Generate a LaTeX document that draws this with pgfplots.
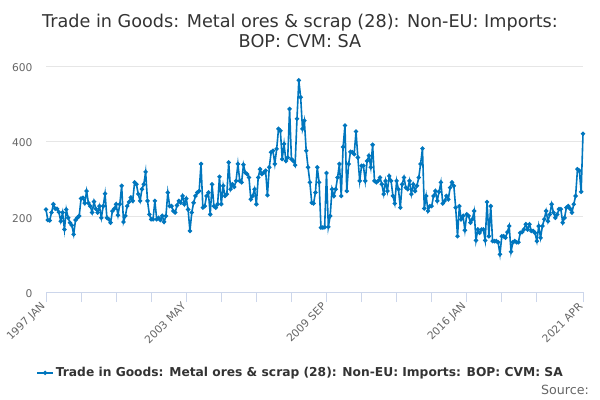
\documentclass[border=0pt]{standalone}
\usepackage{pgfplots}
\pgfplotsset{compat=1.18}
\usepackage{pgfplotstable}
\usepackage{fontspec}
\setmainfont{DejaVu Sans}
\definecolor{linec}{HTML}{0076BE}
\definecolor{axisc}{HTML}{CCD6EB}
\definecolor{gridc}{HTML}{E6E6E6}
\definecolor{labc}{HTML}{666666}
\definecolor{titc}{HTML}{333333}

\pgfplotstableread{
m v
0 219
1 191
2 190
3 211
4 233
5 221
6 221
7 212
8 188
9 211
10 166
11 219
12 197
13 184
14 177
15 153
16 191
17 197
18 202
19 248
20 250
21 236
22 268
23 236
24 228
25 211
26 240
27 221
28 211
29 228
30 197
31 228
32 261
33 197
34 193
35 184
36 215
37 221
38 233
39 204
40 233
41 282
42 186
43 202
44 228
45 239
46 251
47 242
48 291
49 286
50 260
51 242
52 273
53 286
54 319
55 242
56 206
57 193
58 193
59 242
60 193
61 197
62 191
63 202
64 186
65 202
66 264
67 228
68 228
69 215
70 211
71 230
72 242
73 237
74 255
75 233
76 248
77 219
78 162
79 211
80 237
81 255
82 264
83 268
84 340
85 224
86 228
87 255
88 264
89 206
90 286
91 228
92 224
93 233
94 306
95 233
96 282
97 255
98 260
99 344
100 273
101 286
102 279
103 295
104 340
105 295
106 291
107 338
108 317
109 313
110 304
111 246
112 255
113 273
114 233
115 304
116 326
117 313
118 317
119 322
120 257
121 331
122 371
123 375
124 340
125 380
126 433
127 428
128 353
129 393
130 348
131 357
132 486
133 353
134 348
135 337
136 460
137 562
138 517
139 433
140 455
141 375
142 331
143 291
144 237
145 235
146 264
147 331
148 291
149 171
150 171
151 172
152 316
153 173
154 202
155 273
156 255
157 273
158 304
159 340
160 255
161 385
162 442
163 268
164 340
165 372
166 371
167 366
168 426
169 357
170 295
171 335
172 335
173 295
174 348
175 362
176 331
177 391
178 295
179 291
180 295
181 304
182 286
183 260
184 295
185 268
186 308
187 295
188 255
189 235
190 295
191 273
192 224
193 286
194 304
195 277
196 273
197 295
198 260
199 286
200 268
201 282
202 304
203 340
204 381
205 222
206 255
207 215
208 228
209 228
210 255
211 268
212 242
213 266
214 291
215 235
216 242
217 255
218 246
219 277
220 291
221 282
222 224
223 148
224 228
225 193
226 202
227 164
228 206
229 202
230 184
231 193
232 215
233 137
234 166
235 157
236 166
237 166
238 137
239 239
240 148
241 228
242 135
243 135
244 135
245 132
246 100
247 148
248 148
249 144
250 159
251 175
252 107
253 132
254 135
255 132
256 132
257 157
258 159
259 166
260 180
261 166
262 180
263 162
264 162
265 157
266 135
267 175
268 144
269 175
270 193
271 215
272 188
273 206
274 233
275 211
276 197
277 206
278 220
279 220
280 184
281 197
282 224
283 228
284 221
285 211
286 233
287 255
288 326
289 322
290 266
291 420
}\datatable

\begin{document}
\begin{tikzpicture}
\path[use as bounding box] (0bp,0bp) rectangle (600bp,400bp);
\node[anchor=base, font=\fontsize{17.7}{21}\selectfont, text=titc, inner sep=0pt] at (300bp,372bp) {Trade in Goods: Metal ores \& scrap (28): Non-EU: Imports:};
\node[anchor=base, font=\fontsize{17.7}{21}\selectfont, text=titc, inner sep=0pt] at (300bp,352bp) {BOP: CVM: SA};
\node[anchor=base east, font=\fontsize{12.7}{14}\selectfont, text=labc, inner sep=0pt] at (589bp,6bp) {Source:};
\begin{axis}[
  at={(46bp,108bp)}, anchor=south west,
  width=537bp, height=226bp, scale only axis,
  xmin=0, xmax=291, ymin=0, ymax=600,
  axis x line*=bottom, axis y line*=left,
  y axis line style={draw=none},
  x axis line style={draw=axisc, line width=1bp},
  xtick={0,76,152,228,291},
  xticklabels={1997 JAN,2003 MAY,2009 SEP,2016 JAN,2021 APR},
  minor xtick={19,38,57,95,114,133,171,190,209,247,266},
  ytick={0,200,400,600},
  ymajorgrids, grid style={draw=gridc, line width=1bp},
  xtick style={draw=axisc, line width=1bp},
  minor x tick style={draw=axisc, line width=1bp},
  ytick style={draw=none},
  tick align=outside, major tick length=10bp, minor tick length=10bp,
  xticklabel style={rotate=45, anchor=east, font=\fontsize{10.7}{12}\selectfont, text=labc},
  yticklabel style={font=\fontsize{10.7}{12}\selectfont, text=labc, xshift=0bp, yshift=-1.5bp},
  /pgf/number format/assume math mode=true,
  clip=false,
  legend style={at={(0.474,-0.358)}, anchor=center, draw=none, font=\bfseries\fontsize{12.3}{14}\selectfont, text=titc, legend cell align=left},
  legend image code/.code={\draw[#1, mark repeat=2, mark phase=2] plot coordinates {(0bp,0bp) (8bp,0bp) (16bp,0bp)};},
]
\addplot[linec, line width=1.6bp, mark=*, mark size=1.3bp] table[x=m,y=v]{\datatable};
\legend{Trade in Goods: Metal ores \& scrap (28): Non-EU: Imports: BOP: CVM: SA}
\end{axis}
\end{tikzpicture}
\end{document}
